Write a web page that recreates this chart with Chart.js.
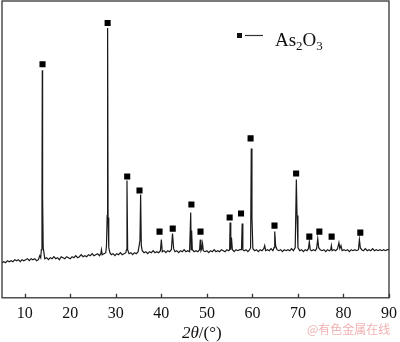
<!DOCTYPE html>
<html lang="zh">
<head>
<meta charset="UTF-8">
<title>As2O3 XRD</title>
<script src="https://cdn.jsdelivr.net/npm/chart.js"></script>
<style>
    body { margin: 0; background: #fff; }
    .wrap { position: relative; width: 400px; height: 342px; }
</style>
</head>
<body>
<div class="wrap"><canvas id="xrd"></canvas></div>
<script>
// 2θ positions (deg) and intensity (arb.) of the pattern
const twoTheta = [
    5.0, 5.4, 5.8, 6.2, 6.6, 7.0, 7.4, 7.8, 8.2, 8.6, 9.0, 9.4, 9.8, 10.2, 10.6, 11.0, 11.4, 11.8,
    12.2, 12.6, 13.0, 13.3, 13.5, 13.65, 13.78, 13.85, 13.92, 14.05, 14.4, 14.8, 15.2, 15.6, 16.0, 16.4,
    16.8, 17.2, 17.6, 18.0, 18.4, 18.8, 19.2, 19.6, 20.0, 20.4, 20.8, 21.2, 21.6, 22.0, 22.4,
    22.8, 23.2, 23.6, 24.0, 24.4, 24.8, 25.2, 25.6, 26.0, 26.4, 26.7, 26.85, 27.0, 27.4, 27.8,
    27.95, 28.1, 28.2, 28.3, 28.45, 28.7, 29.0, 29.4, 29.8, 30.2, 30.6, 31.0, 31.4, 31.8, 32.2, 32.35, 32.45,
    32.6, 32.9, 33.3, 33.7, 34.1, 34.5, 34.9, 35.3, 35.45, 35.6, 35.8, 36.2, 36.6, 37.0, 37.4,
    37.8, 38.2, 38.6, 39.0, 39.4, 39.8, 40.0, 40.2, 40.6, 41.0, 41.4, 41.8, 42.2, 42.45, 42.7,
    43.0, 43.4, 43.8, 44.2, 44.6, 45.0, 45.4, 45.8, 46.2, 46.45, 46.55, 46.65, 46.8, 47.2, 47.6,
    48.0, 48.4, 48.55, 48.7, 48.9, 49.05, 49.2, 49.6, 50.0, 50.4, 50.8, 51.2, 51.6, 52.0, 52.4,
    52.8, 53.2, 53.6, 54.0, 54.4, 54.8, 55.0, 55.1, 55.25, 55.4, 55.6, 56.0, 56.4, 56.8, 57.2,
    57.6, 57.75, 57.9, 58.2, 58.6, 59.0, 59.4, 59.6, 59.75, 59.9, 60.1, 60.5, 60.9, 61.3, 61.7,
    62.1, 62.5, 62.7, 62.9, 63.3, 63.7, 64.1, 64.5, 64.75, 64.9, 65.1, 65.4, 65.8, 66.2, 66.6,
    67.0, 67.4, 67.8, 68.2, 68.6, 69.0, 69.4, 69.65, 69.8, 70.0, 70.4, 70.8, 71.2, 71.6, 72.0,
    72.3, 72.5, 72.7, 73.0, 73.4, 73.8, 74.1, 74.35, 74.55, 74.9, 75.3, 75.7, 76.1, 76.5, 76.9,
    77.2, 77.35, 77.5, 77.9, 78.3, 78.7, 79.0, 79.2, 79.45, 79.7, 80.1, 80.5, 80.9, 81.3, 81.7,
    82.1, 82.5, 82.9, 83.3, 83.5, 83.7, 84.0, 84.4, 84.8, 85.2, 85.6, 86.0, 86.4, 86.8, 87.2,
    87.6, 88.0, 88.4, 88.8, 89.2, 89.6, 90.0
];
const intensity = [
    35, 36, 35, 37, 36, 37, 36, 38, 37, 38, 36, 38, 37, 38, 39, 37, 39, 38,
    39, 37, 38, 42, 40, 48, 100, 227, 100, 50, 39, 40, 38, 40, 39, 41,
    39, 40, 38, 41, 40, 39, 41, 40, 39, 41, 40, 42, 40, 41, 43,
    41, 42, 41, 43, 42, 44, 42, 43, 44, 42, 44, 48, 43, 44, 45,
    52, 82, 269, 80, 50, 45, 43, 44, 42, 44, 43, 45, 43, 44, 45, 48, 117,
    48, 44, 45, 43, 45, 44, 46, 57, 103, 52, 47, 45, 46, 44, 46,
    45, 47, 45, 46, 45, 47, 58, 46, 47, 45, 47, 46, 48, 64, 49,
    46, 47, 45, 47, 46, 48, 46, 47, 46, 85, 48, 67, 48, 46, 47,
    46, 48, 58, 47, 49, 54, 47, 46, 47, 45, 47, 46, 48, 46, 47,
    46, 48, 47, 46, 48, 47, 48, 75, 48, 60, 48, 46, 48, 47, 48,
    48, 74, 48, 47, 48, 46, 48, 50, 149, 80, 49, 47, 48, 46, 48,
    47, 49, 52, 47, 48, 47, 49, 47, 50, 66, 52, 48, 47, 48, 46,
    48, 47, 48, 47, 49, 47, 50, 118, 82, 50, 47, 48, 46, 48, 47,
    49, 56, 48, 47, 48, 47, 49, 59, 50, 48, 47, 48, 46, 48, 47,
    48, 52, 47, 48, 47, 49, 55, 49, 52, 47, 48, 47, 48, 46, 48,
    47, 48, 47, 48, 58, 50, 48, 47, 49, 47, 48, 47, 49, 47, 48,
    47, 48, 47, 48, 47, 48, 48
];

// As2O3 marker positions
const markTheta = [13.9, 28.2, 32.5, 35.2, 39.6, 42.5, 46.6, 48.6, 55.0, 57.5, 59.6, 64.85, 69.6, 72.5, 74.7, 77.4, 83.7];
const markHeight = [233, 274, 121, 107, 66, 69, 93, 66, 80, 84, 159, 72, 124, 61, 66, 61, 65];

const tickValues = [10, 20, 30, 40, 50, 60, 70, 80, 90];

const serif = '"Liberation Serif", "Times New Roman", serif';

const framePlugin = {
    id: 'frame',
    afterDraw(chart) {
        const ctx = chart.ctx;
        const a = chart.chartArea;
        const xs = chart.scales.x;
        ctx.save();
        ctx.strokeStyle = '#333';
        ctx.lineWidth = 1.3;
        ctx.strokeRect(a.left, a.top, a.right - a.left, a.bottom - a.top);
        // inward ticks
        ctx.beginPath();
        tickValues.forEach(v => {
            const px = Math.round(xs.getPixelForValue(v)) + 0.5;
            ctx.moveTo(px, a.bottom);
            ctx.lineTo(px, a.bottom - 4);
        });
        ctx.stroke();

        // axis title 2θ/(°)
        ctx.fillStyle = '#111';
        ctx.textBaseline = 'alphabetic';
        ctx.font = 'italic 17px ' + serif;
        let tx = 182;
        ctx.fillText('2θ', tx, 338);
        tx += ctx.measureText('2θ').width;
        ctx.font = '17px ' + serif;
        ctx.fillText('/(°)', tx, 338);

        // legend
        ctx.fillRect(237, 33, 5, 5);
        ctx.beginPath();
        ctx.lineWidth = 1.2;
        ctx.moveTo(245, 35.5);
        ctx.lineTo(263, 35.5);
        ctx.stroke();
        const big = '19px ' + serif, small = '13px ' + serif;
        let lx = 275;
        const parts = [['As', big, 0], ['2', small, 4], ['O', big, 0], ['3', small, 4]];
        parts.forEach(p => {
            ctx.font = p[1];
            ctx.fillText(p[0], lx, 46 + p[2]);
            lx += ctx.measureText(p[0]).width;
        });

        // watermark
        ctx.fillStyle = 'rgba(235, 150, 150, 0.75)';
        ctx.font = '12px "Noto Sans CJK SC", sans-serif';
        ctx.fillText('@有色金属在线', 307, 334);
        ctx.restore();
    }
};

new Chart(document.getElementById('xrd'), {
    type: 'line',
    data: {
        datasets: [{
            label: 'pattern',
            data: twoTheta.map((t, i) => ({ x: t, y: intensity[i] })),
            borderColor: '#1a1a1a',
            borderWidth: 1.2,
            pointRadius: 0,
            tension: 0,
            order: 2
        }, {
            label: 'As2O3',
            type: 'scatter',
            data: markTheta.map((t, i) => ({ x: t, y: markHeight[i] })),
            pointStyle: 'rect',
            pointRadius: 4.3,
            backgroundColor: '#000',
            borderColor: '#000',
            borderWidth: 0,
            order: 1
        }]
    },
    options: {
        responsive: true,
        maintainAspectRatio: false,
        animation: false,
        layout: { autoPadding: false, padding: { left: 2, right: 11, top: 1, bottom: 13 } },
        plugins: {
            legend: { display: false },
            tooltip: { enabled: false }
        },
        scales: {
            x: {
                type: 'linear',
                min: 5,
                max: 90,
                afterBuildTicks: s => { s.ticks = tickValues.map(v => ({ value: v })); },
                afterFit: s => { s.paddingLeft = 0; s.paddingRight = 0; },
                grid: { display: false, drawTicks: false },
                border: { display: false },
                ticks: {
                    padding: 6,
                    color: '#111',
                    font: { family: serif, size: 16 },
                    maxRotation: 0
                }
            },
            y: {
                display: false,
                min: 0,
                max: 296
            }
        }
    },
    plugins: [framePlugin]
});
</script>
</body>
</html>
